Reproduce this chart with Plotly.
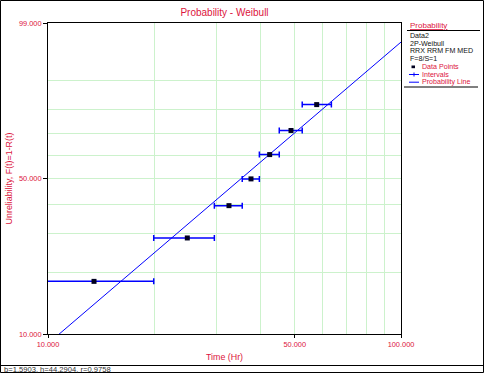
import math
import plotly.graph_objects as go

# ---------------- data ----------------
time_hr = [13.50, 24.81, 32.56, 37.59, 42.46, 48.80, 57.70]
unreliability_pct = [18.1, 28.7, 39.4, 50.0, 60.6, 71.3, 81.9]
interval_low = [8.5, 19.93, 29.6, 35.5, 39.7, 45.2, 52.5]
interval_high = [19.93, 29.6, 35.5, 39.7, 45.2, 52.5, 63.5]

prob_line_time = [10.0, 100.0]
prob_line_unrel = [8.95, 97.41]

x_grid = [10, 20, 30, 40, 50, 60, 70, 80, 90, 100]
x_tick_vals = [10, 50, 100]
x_tick_text = ["10.000", "50.000", "100.000"]
y_grid = [20, 30, 40, 50, 60, 70, 80, 90]
y_tick_vals = [10, 50, 99]
y_tick_text = ["10.000", "50.000", "99.000"]

legend_info = ["Data2", "2P-Weibull", "RRX RRM FM MED", "F=8/S=1"]
legend_items = ["Data Points", "Intervals", "Probability Line"]
status_text = "b=1.5903, h=44.2904, r=0.9758"

# ---------------- styling ----------------
RED = "#dc143c"
BLUE = "#0000ff"
GRID = "#ccf2cc"
FONT = "Liberation Sans"
W, H = 486, 374
L, R, T, B = 48, 401, 23, 334  # plot area in px


def wb(p):
    """Weibull probability-paper transform of a percentage."""
    return math.log(-math.log(1 - p / 100.0))


def px(x):
    return (x - L) / (R - L)


def py(y):
    return (B - y) / (B - T)


y_range = [wb(10), wb(99)]

fig = go.Figure()

fig.add_trace(go.Scatter(
    x=prob_line_time, y=[wb(v) for v in prob_line_unrel],
    mode="lines", line=dict(color=BLUE, width=1),
    name="Probability Line", showlegend=False, hoverinfo="skip",
    xaxis="x", yaxis="y",
))

fig.add_trace(go.Scatter(
    x=time_hr, y=[wb(v) for v in unreliability_pct],
    mode="markers",
    marker=dict(symbol="square", size=5, color="#000020",
                line=dict(width=0)),
    error_x=dict(type="data", symmetric=False,
                 array=[h - t for h, t in zip(interval_high, time_hr)],
                 arrayminus=[t - l for l, t in zip(interval_low, time_hr)],
                 color=BLUE, thickness=1.5, width=3),
    name="Data Points", showlegend=False,
    xaxis="x2", yaxis="y2",
))

tickfont = dict(family=FONT, size=7.4, color=RED)
titlefont = dict(family=FONT, size=8.9, color=RED)

fig.update_layout(
    width=W, height=H,
    margin=dict(l=L, r=W - R, t=T, b=H - B, pad=0, autoexpand=False),
    paper_bgcolor="white", plot_bgcolor="white",
    showlegend=False,
    title=dict(text="Probability - Weibull", x=(224.5) / W, xref="container",
               xanchor="center", y=1 - 12.5 / H, yref="container",
               yanchor="middle", font=dict(family=FONT, size=10, color=RED)),
    xaxis=dict(type="log", range=[1, 2], tickvals=x_grid,
               showticklabels=False, ticks="", showgrid=True,
               gridcolor=GRID, gridwidth=1, zeroline=False,
               showline=True, linecolor="black", linewidth=1, mirror=True),
    yaxis=dict(range=y_range, tickvals=[wb(v) for v in y_grid],
               showticklabels=False, ticks="", showgrid=True,
               gridcolor=GRID, gridwidth=1, zeroline=False,
               showline=True, linecolor="black", linewidth=1, mirror=True),
    xaxis2=dict(type="log", range=[1, 2], overlaying="x", anchor="y2",
                side="bottom", tickvals=x_tick_vals, ticktext=x_tick_text,
                ticks="outside", ticklen=3, tickcolor="black", tickwidth=1,
                tickfont=tickfont, showgrid=False, zeroline=False,
                showline=False,
                title=dict(text="Time (Hr)", font=titlefont, standoff=5)),
    yaxis2=dict(range=y_range, overlaying="y", anchor="x2", side="left",
                tickvals=[wb(v) for v in y_tick_vals], ticktext=y_tick_text,
                ticks="outside", ticklen=4, tickcolor="black", tickwidth=1,
                tickfont=tickfont, showgrid=False, zeroline=False,
                showline=False,
                title=dict(text="Unreliability, F(t)=1-R(t)", font=titlefont,
                           standoff=4)),
)

shapes = []
annotations = []

# outer frame and status bar
shapes.append(dict(type="rect", xref="paper", yref="paper",
                   x0=px(0.5), x1=px(483.5), y0=py(0.5), y1=py(372.5),
                   line=dict(color="black", width=1), fillcolor="rgba(0,0,0,0)",
                   layer="above"))
shapes.append(dict(type="line", xref="paper", yref="paper",
                   x0=px(0.5), x1=px(483.5), y0=py(365.5), y1=py(365.5),
                   line=dict(color="black", width=1)))
annotations.append(dict(text=status_text, xref="paper", yref="paper",
                        x=px(1.5), y=py(369.3), xanchor="left", yanchor="middle",
                        showarrow=False,
                        font=dict(family=FONT, size=7.6, color="#333333")))

# legend panel
LX = 409
annotations.append(dict(text="<u>Probability</u>", xref="paper", yref="paper",
                        x=px(LX - 1), y=py(25.5), xanchor="left",
                        yanchor="middle", showarrow=False,
                        font=dict(family=FONT, size=8, color=RED)))
shapes.append(dict(type="line", xref="paper", yref="paper",
                   x0=px(407), x1=px(480), y0=py(30.5), y1=py(30.5),
                   line=dict(color="black", width=1)))
info_y = [36, 43.7, 51.4, 59.1]
for txt, yy in zip(legend_info, info_y):
    annotations.append(dict(text=txt, xref="paper", yref="paper",
                            x=px(LX - 1), y=py(yy), xanchor="left",
                            yanchor="middle", showarrow=False,
                            font=dict(family=FONT, size=7.1, color="#111111")))
item_y = [66.8, 74.5, 82.2]
for txt, yy in zip(legend_items, item_y):
    annotations.append(dict(text=txt, xref="paper", yref="paper",
                            x=px(420), y=py(yy), xanchor="left",
                            yanchor="middle", showarrow=False,
                            font=dict(family=FONT, size=7.1, color=RED)))
# legend samples
shapes.append(dict(type="rect", xref="paper", yref="paper",
                   x0=px(411.5), x1=px(415), y0=py(65.5), y1=py(68.2),
                   line=dict(width=0), fillcolor="#000020"))
shapes.append(dict(type="line", xref="paper", yref="paper",
                   x0=px(409), x1=px(419), y0=py(74.5), y1=py(74.5),
                   line=dict(color=BLUE, width=1)))
shapes.append(dict(type="line", xref="paper", yref="paper",
                   x0=px(414), x1=px(414), y0=py(72.5), y1=py(76.5),
                   line=dict(color=BLUE, width=1)))
shapes.append(dict(type="line", xref="paper", yref="paper",
                   x0=px(409), x1=px(419), y0=py(82.2), y1=py(82.2),
                   line=dict(color=BLUE, width=1)))
shapes.append(dict(type="line", xref="paper", yref="paper",
                   x0=px(404), x1=px(478), y0=py(87), y1=py(87),
                   line=dict(color="black", width=1)))

fig.update_layout(shapes=shapes, annotations=annotations)

fig.write_html("out.html", config={"displayModeBar": False},
               post_script="document.body.style.margin='0';")
